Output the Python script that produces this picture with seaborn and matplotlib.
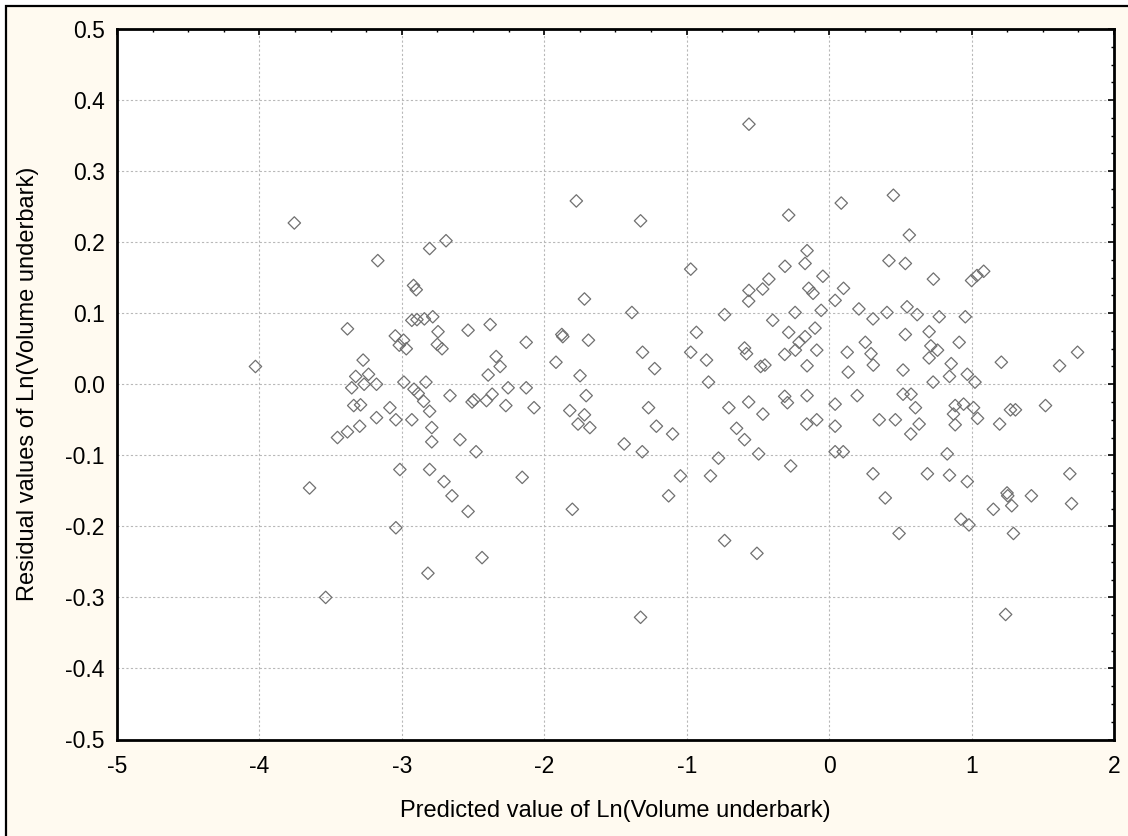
import matplotlib
matplotlib.use("Agg")
import matplotlib.pyplot as plt
import seaborn as sns
import pandas as pd
from matplotlib.patches import Rectangle
from matplotlib.ticker import MultipleLocator

predicted = [
    -3.755, -3.382, -4.028, -3.272, -3.324, -3.265, -3.352, -3.338, -3.29, -3.296,
    -3.382, -3.452, -3.648, -3.535,
    -1.775, -3.169, -2.805, -2.69, -2.918, -2.899, -1.718, -2.93, -2.894, -2.842,
    -2.783, -2.746, -2.535, -2.38, -3.046, -2.988, -3.018, -2.969, -2.751, -2.718,
    -2.127, -1.877, -1.87, -1.69, -3.234, -3.178, -2.338, -2.31, -2.394, -1.918,
    -1.749, -2.986, -2.831, -2.915, -2.885, -2.847, -2.805, -2.662, -2.254, -2.127,
    -2.507, -2.493, -2.406, -2.366, -2.27, -2.072, -1.706, -1.821, -1.718, -3.084,
    -3.178, -3.042, -2.93, -2.79, -2.79, -2.592, -2.479, -1.763, -1.68, -3.014,
    -2.805, -2.704, -2.648, -2.535, -2.155, -1.803, -3.042, -2.437, -2.817,
    -0.563, 0.085, -0.284, -1.324, -0.972, -0.155, -0.169, -0.31, -0.044, -0.423,
    -0.467, -0.563, -0.565, -0.143, -0.113, 0.101, 0.042, -1.385, -0.734, -0.239,
    -0.056, -0.396, -0.932, -0.284, -0.099, -0.169, -0.211, -0.237, -0.312, -0.087,
    -1.31, -1.225, -0.972, -0.861, -0.594, -0.58, -0.481, -0.451, -0.155, 0.127,
    0.134, -0.847, -1.268, -0.704, -0.565, -0.312, -0.293, -0.155, 0.042, -0.465,
    -1.213, -1.099, -1.439, -1.312, -0.65, -0.594, -0.777, -0.495, -0.157, -0.087,
    0.042, 0.042, 0.099, -0.27, -1.044, -0.833, -1.127, -0.734, -0.507, -1.324,
    0.451, 0.563, 0.420, 0.535, 0.732, 1.0, 1.038, 1.085, 0.209, 0.308,
    0.406, 0.547, 0.618, 0.773, 0.956, 0.254, 0.294, 0.31, 0.535, 0.702,
    0.714, 0.761, 0.702, 0.913, 0.857, 0.845, 0.97, 1.024, 0.519, 0.730,
    1.209, 1.618, 1.744, 0.197, 0.519, 0.575, 0.606, 1.273, 1.308, 1.519,
    0.885, 0.944, 1.014, 0.873, 0.885, 1.042, 1.197, 0.352, 0.465, 0.632,
    0.573, 0.829, 0.308, 0.69, 0.845, 0.97, 0.394, 1.249, 1.254, 1.282,
    1.153, 1.42, 1.69, 1.702, 0.925, 0.982, 0.491, 1.294, 1.239,
]

residual = [
    0.227, 0.078, 0.025, 0.034, 0.011, 0.000, -0.005, -0.030, -0.029, -0.059,
    -0.067, -0.075, -0.146, -0.300,
    0.258, 0.174, 0.191, 0.202, 0.139, 0.133, 0.120, 0.090, 0.091, 0.092,
    0.095, 0.074, 0.076, 0.084, 0.068, 0.062, 0.055, 0.050, 0.056, 0.050,
    0.059, 0.070, 0.067, 0.062, 0.014, 0.000, 0.039, 0.025, 0.013, 0.031,
    0.012, 0.003, 0.003, -0.007, -0.013, -0.024, -0.038, -0.016, -0.005, -0.005,
    -0.025, -0.022, -0.023, -0.014, -0.030, -0.033, -0.016, -0.037, -0.043, -0.033,
    -0.047, -0.050, -0.050, -0.061, -0.081, -0.078, -0.095, -0.056, -0.061, -0.120,
    -0.120, -0.137, -0.157, -0.179, -0.131, -0.176, -0.202, -0.244, -0.266,
    0.366, 0.255, 0.238, 0.230, 0.162, 0.188, 0.170, 0.166, 0.152, 0.148,
    0.134, 0.132, 0.117, 0.135, 0.128, 0.135, 0.118, 0.101, 0.098, 0.101,
    0.104, 0.090, 0.073, 0.073, 0.079, 0.067, 0.059, 0.048, 0.042, 0.048,
    0.045, 0.022, 0.045, 0.034, 0.051, 0.043, 0.025, 0.027, 0.026, 0.045,
    0.017, 0.003, -0.033, -0.033, -0.025, -0.017, -0.026, -0.016, -0.028, -0.042,
    -0.059, -0.070, -0.084, -0.095, -0.062, -0.078, -0.104, -0.098, -0.056, -0.050,
    -0.059, -0.095, -0.095, -0.115, -0.129, -0.129, -0.157, -0.220, -0.238, -0.328,
    0.266, 0.210, 0.174, 0.170, 0.148, 0.146, 0.153, 0.159, 0.106, 0.092,
    0.101, 0.109, 0.098, 0.095, 0.095, 0.059, 0.043, 0.027, 0.070, 0.074,
    0.054, 0.048, 0.037, 0.059, 0.029, 0.011, 0.014, 0.003, 0.020, 0.003,
    0.031, 0.026, 0.045, -0.016, -0.014, -0.014, -0.033, -0.036, -0.036, -0.030,
    -0.030, -0.028, -0.033, -0.042, -0.057, -0.048, -0.056, -0.050, -0.050, -0.056,
    -0.070, -0.098, -0.126, -0.126, -0.128, -0.137, -0.160, -0.153, -0.157, -0.171,
    -0.176, -0.157, -0.126, -0.168, -0.190, -0.198, -0.210, -0.210, -0.324,
]

x_ticks = [-5, -4, -3, -2, -1, 0, 1, 2]
y_ticks = [-0.5, -0.4, -0.3, -0.2, -0.1, 0.0, 0.1, 0.2, 0.3, 0.4, 0.5]
x_label = "Predicted value of Ln(Volume underbark)"
y_label = "Residual values of Ln(Volume underbark)"

df = pd.DataFrame({"pred": predicted, "resid": residual})

sns.set_style("white")
plt.rcParams["font.family"] = ["Liberation Sans", "DejaVu Sans"]

W, H = 1128, 836
fig = plt.figure(figsize=(W / 100, H / 100), dpi=100)
fig.patch.set_facecolor("white")
bg = Rectangle((6 / W, -0.1), 1.2, (H - 6) / H + 0.1, transform=fig.transFigure,
               facecolor="#fffaf0", edgecolor="black", linewidth=1.6, zorder=-10)
fig.patches.append(bg)

ax = fig.add_axes([117 / W, 1 - 739.5 / H, (1114 - 117) / W, (739.5 - 29) / H])
ax.set_zorder(5)
ax.set_facecolor("white")

sns.scatterplot(data=df, x="pred", y="resid", ax=ax, marker="D", s=40,
                facecolor="none", edgecolor="#707070", linewidth=0.9, zorder=3)

ax.set_xlim(-5, 2)
ax.set_ylim(-0.5, 0.5)
ax.set_xticks(x_ticks)
ax.set_xticklabels([f"{v:g}" for v in x_ticks])
ax.set_yticks(y_ticks)
ax.set_yticklabels([f"{v:.1f}" for v in y_ticks])
ax.xaxis.set_minor_locator(MultipleLocator(0.25))
ax.yaxis.set_minor_locator(MultipleLocator(0.025))

ax.grid(True, which="major", color="#b8b8b8", linestyle=(0, (2, 2)), linewidth=0.8, zorder=1)
ax.set_axisbelow(True)

for sp in ax.spines.values():
    sp.set_color("black")
    sp.set_linewidth(2)

ax.tick_params(which="both", direction="in", top=True, right=True, colors="black")
ax.tick_params(which="major", length=4, width=1.2)
ax.tick_params(which="minor", length=2.5, width=1)
ax.tick_params(axis="x", which="major", pad=11, labelsize=16.5)
ax.tick_params(axis="y", which="major", pad=9, labelsize=16.5)

ax.set_xlabel(x_label, fontsize=17, color="black")
ax.set_ylabel(y_label, fontsize=17, color="black")
ax.xaxis.set_label_coords(0.5, -0.085)
ax.yaxis.set_label_coords(-0.078, 0.5)

fig.savefig("out.png", dpi=100, facecolor=fig.get_facecolor())
